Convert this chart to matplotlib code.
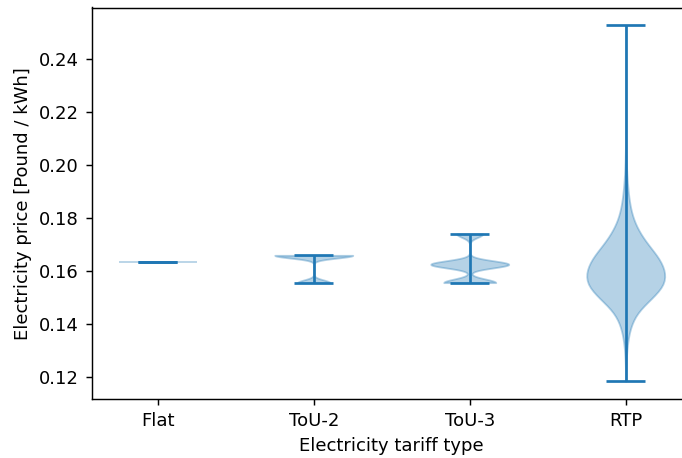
import numpy as np
import matplotlib
matplotlib.use("Agg")
import matplotlib.pyplot as plt
from matplotlib import cbook, mlab

# tariff categories
tariffs = ['Flat', 'ToU-2', 'ToU-3', 'RTP']

# price levels [Pound / kWh] and number of hours per year at each level
flat_prices = [0.1633]
flat_hours = [8760]

tou2_prices = [0.1557, 0.1660]
tou2_hours = [2555, 6205]

tou3_prices = [0.1557, 0.1626, 0.1741]
tou3_hours = [2920, 4380, 1460]

# real-time prices, binned
rtp_prices = [0.1185, 0.120, 0.125, 0.130, 0.135, 0.140, 0.145, 0.150, 0.155,
              0.160, 0.165, 0.170, 0.175, 0.180, 0.185, 0.190, 0.195, 0.200,
              0.205, 0.210, 0.215, 0.220, 0.230, 0.240, 0.2528]
rtp_hours = [1, 4, 12, 35, 90, 200, 440, 1000, 1480,
             1480, 1250, 820, 480, 260, 150, 90, 50, 25,
             12, 6, 4, 3, 2, 1, 1]

# KDE bandwidth factor per tariff (None -> scott)
bw_factors = [None, 0.22, 0.22, 0.3]


def kde(X, coords, bw):
    if np.ptp(X) == 0:
        return np.ones(len(coords))
    return mlab.GaussianKDE(X, bw).evaluate(coords)


def build(prices, hours):
    return np.repeat(prices, hours)


datasets = [build(flat_prices, flat_hours),
            build(tou2_prices, tou2_hours),
            build(tou3_prices, tou3_hours),
            build(rtp_prices, rtp_hours)]

stats = []
for data, bw in zip(datasets, bw_factors):
    stats += cbook.violin_stats(data, lambda x, c, b=bw: kde(x, c, b))

fig = plt.figure(figsize=(682 / 130, 458 / 130), dpi=130)
# axes runs past the right edge of the figure (right spine is cut off)
ax = fig.add_axes([91.5 / 682, 59 / 458, 600.5 / 682, 391.5 / 458])

positions = list(range(1, len(tariffs) + 1))
parts = ax.violin(stats, positions=positions, showextrema=True)
for body in parts['bodies']:
    body.set_facecolor('C0')
    body.set_edgecolor('C0')
    body.set_linewidth(1.0)
    body.set_alpha(0.33)

ax.set_xlim(0.575, 4.425)
ax.spines['right'].set_visible(False)
ax.set_xticks(positions)
ax.set_xticklabels(tariffs)
ax.set_xlabel('Electricity tariff type')
ax.set_ylabel('Electricity price [Pound / kWh]')

fig.savefig('out.png', dpi=130)
